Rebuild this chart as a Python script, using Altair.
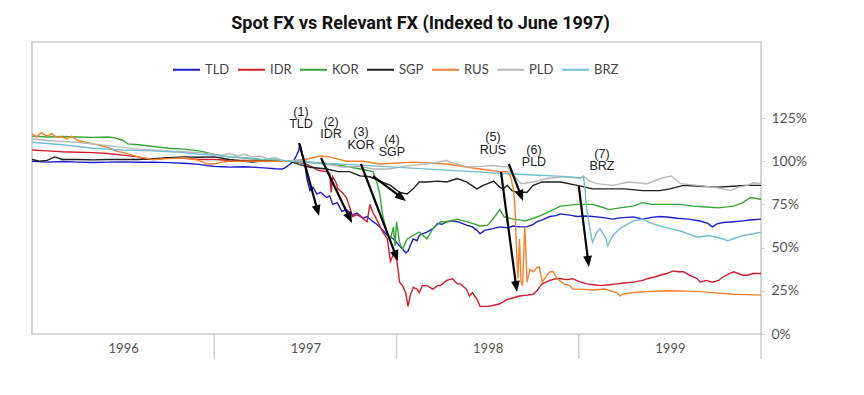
import math
import altair as alt
import pandas as pd

# time t = months since Jan 1996, value = % of June 1997 level
TLD = [(0,100),(1,99.5),(2,99.8),(3,99.5),(4,99.3),(5,99.5),(6,99.6),(7,99.4),(8,99.5),(9,99.2),(10,98.8),(11,98.2),(11.5,97.5),(12,97),(12.5,96.8),(13,96.6),(14,96.8),(15,96.3),(15.5,96),(16,95.6),(16.5,95.5),(16.8,97),(17,98.4),(17.2,100),(17.4,103),(17.55,106),(17.65,110),(17.8,104),(17.9,101),(18.0,96),(18.1,90),(18.3,83),(18.5,85),(18.76,81),(19.0,82),(19.4,79),(19.6,80),(19.8,75),(20.1,76),(20.4,71),(20.7,72),(21.1,69),(21.4,70),(21.8,67),(22.06,68),(22.45,65),(22.7,63.5),(22.9,62),(23.1,60),(23.4,57),(23.6,56),(23.8,55),(24.0,53),(24.2,51),(24.4,49),(24.6,47),(24.76,48),(24.9,51),(25.1,55),(25.35,54),(25.5,57),(25.7,58),(26.0,59),(26.4,61),(26.7,64),(27.0,63.5),(27.3,65),(27.7,65.5),(28.0,65),(28.2,64.5),(28.6,63),(29.0,62),(29.3,60),(29.5,58),(29.8,60),(30.35,61),(30.8,62),(31.3,61.5),(31.7,62.5),(32.1,62),(32.6,62),(33.0,63.5),(33.25,65),(33.6,66),(34.1,68),(34.5,68.5),(34.8,69.5),(35.4,68.8),(35.9,68),(36.5,68.3),(36.9,68),(37.5,67.5),(38.25,66.5),(38.7,67.2),(39.6,67.8),(40.2,66.5),(40.8,67.5),(41.35,68),(41.8,67.7),(42.5,67),(43.2,66.5),(44.0,65.4),(44.5,64),(44.8,62),(45.1,63.7),(45.5,64.5),(46.2,65),(46.8,65.5),(47.3,66),(48,66.5)]
IDR = [(0,106.5),(1,106),(2,105.5),(3,105.2),(4,105),(5,104.5),(6,103.5),(7,102.5),(7.5,101.2),(8,101),(8.5,101.5),(9,102),(10,101.7),(11,101),(12,101),(13,100.6),(14,100.5),(15,100.4),(16,100.2),(17,100),(17.5,99.5),(18,98.5),(18.5,96.5),(18.76,95),(19.0,94.5),(19.4,94),(19.6,93),(19.7,82),(19.8,91),(20.0,88),(20.15,84),(20.4,82),(20.7,79),(20.9,74),(21.1,68),(21.4,69),(21.6,68),(22.06,65),(22.25,75),(22.45,70),(22.6,68),(22.9,62.5),(23.1,59),(23.4,55),(23.6,42),(23.8,46),(24.0,43),(24.1,37.5),(24.2,30),(24.4,28),(24.6,24),(24.76,16),(24.9,22),(25.1,27),(25.35,26),(25.5,24),(25.7,28),(26.0,28),(26.4,26),(26.7,28),(26.9,28),(27.3,31),(27.7,32),(28.0,29),(28.2,29),(28.6,26),(28.8,22),(29.0,24),(29.3,20),(29.5,16),(30.0,16),(30.35,16.5),(30.8,17.5),(31.3,20),(31.7,21),(32.1,22),(32.6,22.5),(33.0,23),(33.25,25),(33.4,27),(33.6,29),(34.1,31),(34.5,32),(34.8,32),(35.2,31.5),(35.6,32),(36.0,30.5),(36.5,29),(37.0,28.5),(37.4,28),(38.0,28.5),(38.5,29),(39.0,29.5),(39.6,30),(40.2,31),(40.5,32),(41.0,33),(41.35,34),(41.8,35),(42.2,36.5),(42.6,36),(42.9,36),(43.3,34),(43.8,32),(44.0,30),(44.4,31),(44.8,30),(45.2,31),(45.5,33),(45.9,35),(46.2,36),(46.8,34),(47.1,34),(47.5,35),(48,35)]
KOR = [(0,114.5),(1,114),(2,114.3),(3,114),(4,113.8),(5,114),(5.5,113.5),(6,112),(6.3,110),(7,109.5),(8,108.5),(9,107.5),(10,107),(11,106),(11.5,105),(12,104),(12.5,103),(13,102.5),(14,101.8),(15,101),(16,100.5),(17,100),(18,99.5),(19,99),(20,98),(20.7,97),(21.6,95.5),(22.45,94),(22.7,88),(22.9,81),(23.1,68),(23.4,58),(23.6,55),(23.8,62),(23.9,51),(24.0,65),(24.2,53),(24.4,49),(24.7,55),(25.1,57),(25.5,59),(26.0,55),(26.4,61),(26.9,65),(27.3,65),(28.0,66.5),(28.6,65),(29.0,64),(29.5,62.5),(30.0,63),(30.35,66.5),(30.8,72),(31.1,67.7),(31.7,66.5),(32.5,65.5),(33.25,67.7),(34.1,71),(34.8,74),(35.9,75),(36.9,75),(37.5,73.5),(38.0,72),(38.7,73),(39.6,74),(40.2,76),(40.8,75),(41.8,75),(42.7,75),(43.5,74),(44.4,73.5),(45.2,73),(46.2,74),(46.8,76),(47.3,79),(48,78)]
SGP = [(0,101),(0.5,100),(1,100.5),(1.5,102.5),(2,101),(3,101),(4,100.8),(5,101),(6,101),(7,101),(8,101.5),(9,102),(10,102.5),(11,102.3),(12,102.5),(13,101),(14,100),(14.5,99.5),(15,100),(16,100),(17,100),(17.65,98),(18.3,96.5),(19.4,95.5),(20.15,94),(20.9,94),(21.6,91.5),(22.25,91),(22.9,88.5),(23.6,86),(24.2,82),(24.7,81),(25.1,84),(25.5,88),(26.0,88),(26.7,88.5),(27.3,88),(28.0,90),(28.6,88),(29.3,84),(29.7,86),(30.0,87),(30.4,88.5),(30.8,85),(31.0,84),(31.3,86),(31.6,83),(32.0,82),(32.6,82),(33.0,86),(33.6,88),(34.8,88),(35.9,86),(36.9,84),(38.0,84),(39.0,84),(40.2,83),(41.35,83),(42.0,84),(42.9,86),(44.0,85.5),(45.1,85),(46.2,85.5),(47.0,86),(48,86)]
RUS = [(0,116),(0.3,114),(0.6,116.5),(1,114.5),(1.3,116),(1.6,114),(2,114),(2.3,113),(2.6,114.5),(3,112),(4,110),(5,108),(5.5,106),(6,105),(7,102.5),(8,101),(9,101.5),(10,102),(11,100.5),(11.5,98.5),(12,98.4),(12.5,99.5),(13,100),(15,100),(17,100),(18,101),(18.96,103),(19.6,102.5),(20.7,100),(21.8,100),(22.9,98.4),(25.1,99.5),(27.3,98.4),(29.5,95.5),(30.8,94),(31.3,94),(31.5,91.5),(31.7,84),(31.8,74),(31.9,49),(32.0,32),(32.1,55),(32.2,30),(32.3,28),(32.45,62),(32.6,30),(32.8,37.5),(33.0,36),(33.25,38.5),(33.4,38.8),(33.6,30),(33.9,34),(34.1,36),(34.3,36),(34.6,32),(35.0,29),(35.4,28),(35.6,26),(36.1,26),(36.9,25.5),(37.7,26),(38.25,24.5),(38.5,24),(38.7,22),(38.9,23),(39.6,24),(40.5,24.5),(41.8,25),(43,24.8),(44.0,24.5),(45.0,23.8),(46.2,23),(47,22.8),(48,22.5)]
PLD = [(0,113),(1,112),(2,111.5),(3,111),(4,110),(5,109),(6,108),(7,107),(8,106.5),(9,106),(10,105.5),(11,105),(12,104),(12.5,103.5),(13,104.5),(13.5,103),(14,104),(14.5,102.5),(15,103),(15.5,101.5),(16,102),(16.5,100.5),(17,100),(17.65,101),(18.5,99),(19.5,98),(20.5,96.5),(21.5,97),(22.5,95.5),(23.5,95.5),(24.5,97),(25.5,98),(26.5,99),(27.3,100.5),(27.6,99),(28.0,98.4),(28.6,96.6),(29.5,97),(30.3,97.5),(31.3,96.6),(31.6,92),(31.9,90),(32.2,87),(33.0,88),(33.9,90),(35.0,91),(36.1,90),(36.3,91.5),(36.7,88.5),(37.2,87),(38.25,86),(39.3,88),(40.5,87),(41.4,90),(42.1,91.5),(42.7,87),(43.8,86),(44.8,85),(45.5,84),(46,83),(46.5,85),(47.1,86),(47.5,87.5),(48,87)]
BRZ = [(0,111),(2,109.5),(4,107.5),(6,106.5),(8,106),(10,105),(11,104),(12,103.5),(13,102.5),(14,102),(15,101.2),(16,101),(17,100),(19,99),(21,98),(23,97),(25,96),(27,95),(29,94),(30.8,93),(33,92),(35,91.2),(36.1,90.5),(36.3,91),(36.4,86),(36.5,74),(36.7,62.5),(36.9,53),(37.2,59),(37.4,61),(37.8,55),(37.9,51),(38.25,57),(38.7,61),(39.6,65.5),(40.2,66.5),(40.8,64),(41.35,62.5),(42.0,61),(42.7,59.6),(43.8,56),(44.6,57),(45.5,55),(45.8,54),(46.8,57),(47.5,58),(48,59)]

SERIES = ["TLD", "IDR", "KOR", "SGP", "RUS", "PLD", "BRZ"]
COLORS = ["#1c1cd2", "#d41c2c", "#33a533", "#1e1e1e", "#f5812b", "#b8b8b8", "#72bed2"]

YEAR_LABEL_POS = [6, 18, 30, 42]
YEAR_SEPARATORS = [12, 24, 36, 48]
Y_TICKS = [0, 0.25, 0.5, 0.75, 1.0, 1.25]

ANNOT_TEXT = ["(1)\nTLD", "(2)\nIDR", "(3)\nKOR", "(4)\nSGP", "(5)\nRUS", "(6)\nPLD", "(7)\nBRZ"]
ANNOT_T = [17.71, 19.69, 21.66, 23.7, 30.35, 33.05, 37.53]
ANNOT_V = [1.285, 1.227, 1.169, 1.123, 1.140, 1.065, 1.042]

ARROW_T0 = [17.58, 19.03, 21.66, 22.45, 30.88, 31.4, 36.0]
ARROW_V0 = [1.105, 1.019, 0.984, 0.914, 0.9375, 0.984, 0.856]
ARROW_T1 = [18.9, 21.07, 24.1, 24.62, 31.93, 32.33, 36.67]
ARROW_V1 = [0.683, 0.642, 0.422, 0.770, 0.243, 0.770, 0.388]

W, H = 729, 292
XMAX = 48
YMAX = 1.69

rows = []
for name, pts in zip(SERIES, [TLD, IDR, KOR, SGP, RUS, PLD, BRZ]):
    for t, v in pts:
        rows.append({"series": name, "t": t, "v": v / 100.0})
df = pd.DataFrame(rows)

pxx = W / XMAX
pxy = H / YMAX
arrow_rows = []
head_rows = []
for t0, v0, t1, v1 in zip(ARROW_T0, ARROW_V0, ARROW_T1, ARROW_V1):
    dx = (t1 - t0) * pxx
    dy = -(v1 - v0) * pxy
    L = math.hypot(dx, dy)
    f = max(0.0, 1 - 7.0 / L)
    arrow_rows.append({"t": t0, "v": v0, "t2": t0 + (t1 - t0) * f, "v2": v0 + (v1 - v0) * f})
    ang = math.degrees(math.atan2(dx, -dy)) % 360
    head_rows.append({"t": t1, "v": v1, "ang": ang})
arrows_df = pd.DataFrame(arrow_rows)
heads_df = pd.DataFrame(head_rows)
annot_df = pd.DataFrame({"t": ANNOT_T, "v": ANNOT_V, "label": ANNOT_TEXT})
sep_df = pd.DataFrame({"t": YEAR_SEPARATORS})

xscale = alt.Scale(domain=[0, XMAX], nice=False, zero=False)
yscale = alt.Scale(domain=[0, YMAX], nice=False)
xaxis = alt.Axis(values=YEAR_LABEL_POS, labelExpr="toString(1996 + floor(datum.value / 12))",
                 ticks=False, domain=False, grid=False, labelPadding=8, title=None,
                 labelFontSize=13, labelColor="#555555", labelFont="Lato")
yaxis = alt.Axis(orient="right", values=Y_TICKS, format=".0%", grid=False, domain=False,
                 tickSize=3, tickColor="#cccccc", labelPadding=7, labelFontSize=14,
                 labelColor="#555555", labelFont="Lato", title=None)

X = alt.X("t:Q", scale=xscale, axis=xaxis)
Y = alt.Y("v:Q", scale=yscale, axis=yaxis)

sep = alt.Chart(sep_df).mark_rule(color="#d0d0d0", strokeWidth=1.5).encode(
    x=X, y=alt.value(H), y2=alt.value(H + 25))

lines = alt.Chart(df).mark_line(strokeWidth=1.4, clip=True).encode(
    x=X, y=Y,
    color=alt.Color("series:N", scale=alt.Scale(domain=SERIES, range=COLORS),
                    legend=alt.Legend(orient="none", legendX=140, legendY=13,
                                      direction="horizontal", title=None,
                                      symbolType="stroke", symbolSize=729,
                                      symbolStrokeWidth=2, labelFontSize=13,
                                      labelFont="Lato", labelColor="#444444",
                                      columnPadding=4, labelOffset=4)),
)

arrow_lines = alt.Chart(arrows_df).mark_rule(color="black", strokeWidth=2.2).encode(
    x=X, y=Y, x2="t2:Q", y2="v2:Q")

arrow_heads = alt.Chart(heads_df).mark_point(
    shape="M0,0 L-0.4,1 L0.4,1 Z", filled=True, size=484, color="black",
    opacity=1, strokeWidth=0).encode(x=X, y=Y, angle=alt.Angle("ang:Q", scale=None))

labels = alt.Chart(annot_df).mark_text(
    lineBreak="\n", font="Liberation Sans", fontSize=12.5, lineHeight=12.5,
    color="#222222", align="center", baseline="middle").encode(x=X, y=Y, text="label:N")

chart = alt.layer(sep, lines, arrow_lines, arrow_heads, labels).properties(
    width=W, height=H,
    title=alt.TitleParams(text="Spot FX vs Relevant FX (Indexed to June 1997)",
                          font="Roboto, sans-serif",
                          fontSize=18, fontWeight="bold", color="#111111",
                          anchor="middle", dx=24, offset=9),
    padding={"left": 24, "top": 7, "right": 5, "bottom": 5},
).configure_view(stroke="#c8c8c8", strokeWidth=1.5)

chart.save("out.html", embed_options={"renderer": "svg", "actions": False})
